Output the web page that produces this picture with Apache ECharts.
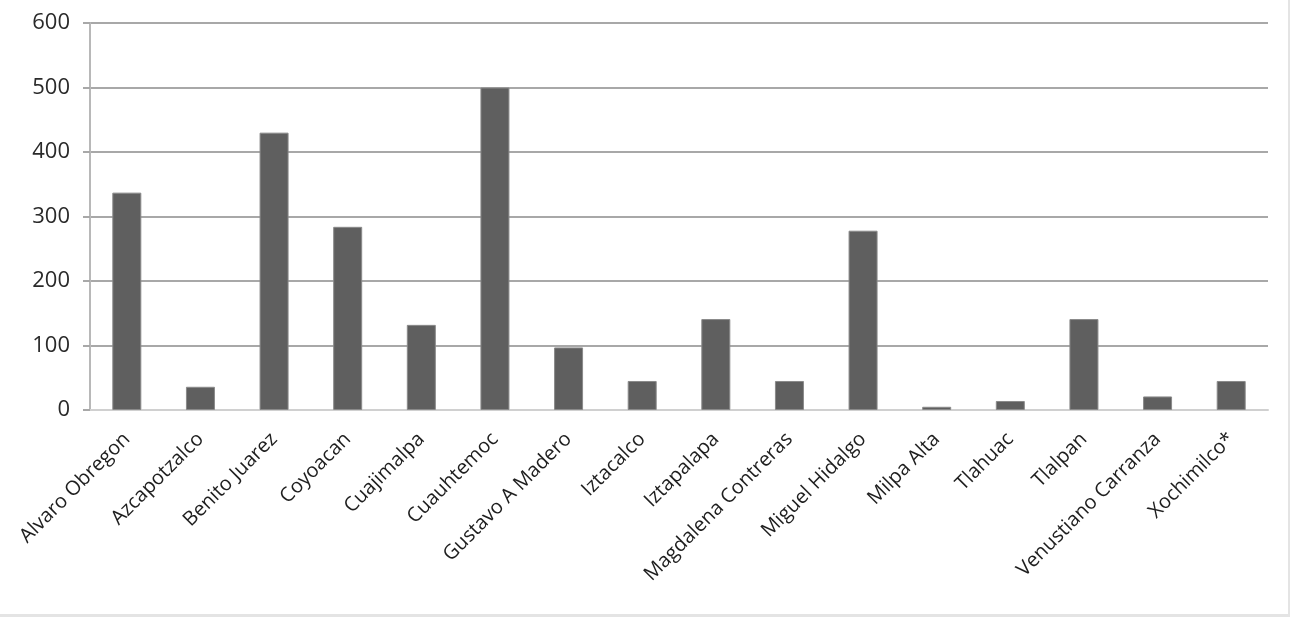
<!DOCTYPE html>
<html>
<head>
<meta charset="utf-8">
<script src="https://cdn.jsdelivr.net/npm/echarts@6/dist/echarts.min.js"></script>
<style>
  html, body { margin: 0; padding: 0; background: #fff; }
  #chart {
    width: 1288px;
    height: 614px;
    border-right: 2px solid #e4e4e4;
    border-bottom: 3px solid #e4e4e4;
  }
</style>
</head>
<body>
<div id="chart"></div>
<script>
// delegaciones
const categories = [
  'Alvaro Obregon', 'Azcapotzalco', 'Benito Juarez', 'Coyoacan', 'Cuajimalpa',
  'Cuauhtemoc', 'Gustavo A Madero', 'Iztacalco', 'Iztapalapa', 'Magdalena Contreras',
  'Miguel Hidalgo', 'Milpa Alta', 'Tlahuac', 'Tlalpan', 'Venustiano Carranza', 'Xochimilco*'
]
// valores
const values = [337, 36, 430, 284, 132, 500, 97, 45, 141, 45, 278, 5, 14, 141, 21, 45]
const yTicks = [0, 100, 200, 300, 400, 500, 600]

const chart = echarts.init(document.getElementById('chart'))

const option = {
  animation: false,
  grid: {
    left: 90,
    right: 20,
    top: 23,
    bottom: 204,
    containLabel: false
  },
  xAxis: {
    type: 'category',
    data: categories,
    axisLine: { lineStyle: { color: '#d0d0d0', width: 2 } },
    axisTick: { alignWithLabel: false, length: 6, lineStyle: { color: '#b8b8b8' } },
    axisLabel: {
      rotate: 45,
      margin: 26,
      interval: 0,
      fontFamily: 'Open Sans',
      fontSize: 20,
      fontWeight: 500,
      color: '#1e1e1e'
    }
  },
  yAxis: {
    type: 'value',
    min: yTicks[0],
    max: yTicks[yTicks.length - 1],
    interval: 100,
    axisLine: { show: true, lineStyle: { color: '#b8b8b8', width: 2 } },
    axisTick: { show: true, length: 7, lineStyle: { color: '#a8a8a8', width: 2 } },
    axisLabel: {
      margin: 20,
      fontFamily: 'Open Sans',
      fontSize: 22,
      fontWeight: 500,
      color: '#2a2a2a'
    },
    splitLine: { lineStyle: { color: '#a8a8a8', width: 2 } }
  },
  series: [
    {
      type: 'bar',
      data: values,
      barWidth: 29,
      itemStyle: {
        color: '#5f5f5f',
        borderColor: '#8a8a8a',
        borderWidth: 1
      }
    }
  ]
}

chart.setOption(option)
</script>
</body>
</html>
